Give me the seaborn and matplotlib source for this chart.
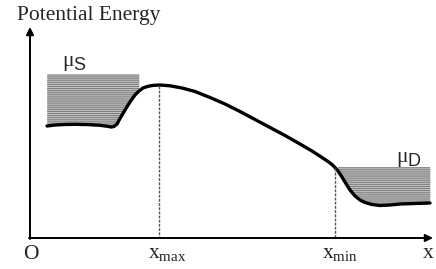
import numpy as np
import seaborn as sns
import matplotlib.pyplot as plt

# schematic potential profile, in picture coordinates (y grows downward)
curve_x = [47, 55, 65, 75, 88, 100, 107, 111, 114, 117, 120, 125, 130, 135, 139, 143, 148,
           153, 160, 170, 182, 195, 210, 225, 240, 255, 270, 285, 300, 312, 322, 328, 332,
           335, 338, 341, 345, 350, 355, 360, 365, 372, 380, 390, 400, 415, 430]
curve_y = [126, 125, 124.5, 124.3, 124.6, 125.3, 126.2, 127, 126.5, 124, 118.5, 110, 102,
           95, 91, 88, 86.3, 85.4, 85, 85.8, 88, 91.5, 97.5, 104, 111.5, 119.5, 127.5, 135.5,
           144, 151, 157.5, 161.5, 164.5, 167.5, 171, 175.5, 182, 190, 196, 200, 202.5, 204.5,
           205.5, 205, 204, 203.5, 203]

source_x = (47, 139)
source_level = 74
drain_x = (338, 430)
drain_level = 167

x_max = 159
x_min = 335
axis_origin = (30, 238)

sns.set_style('white')
plt.rcParams['font.family'] = ['Liberation Serif', 'DejaVu Serif']
plt.rcParams['mathtext.fontset'] = 'custom'
plt.rcParams['mathtext.rm'] = 'Liberation Serif'
plt.rcParams['mathtext.it'] = 'Liberation Serif:italic'
plt.rcParams['hatch.linewidth'] = 0.7

fig = plt.figure(figsize=(4.36, 2.69), dpi=100)
ax = fig.add_axes([0, 0, 1, 1])
ax.set_xlim(0, 436)
ax.set_ylim(269, 0)
ax.axis('off')

cx = np.array(curve_x)
cy = np.array(curve_y)

# shaded reservoirs
for (x0, x1), level in [(source_x, source_level), (drain_x, drain_level)]:
    m = (cx >= x0) & (cx <= x1)
    ax.fill_between(cx[m], level, cy[m], color='#c2c2c2', linewidth=0)
    ax.fill_between(cx[m], level, cy[m], facecolor='none', edgecolor='#7a7a7a',
                    hatch='--------', linewidth=0)

# potential curve
sns.lineplot(x=cx, y=cy, sort=False, ax=ax, color='black', linewidth=2.4, estimator=None,
             solid_joinstyle='round', solid_capstyle='round')

# dashed markers
ax.plot([x_max, x_max], [86, axis_origin[1]], color='#555555', lw=1, ls=(0, (2, 1)))
ax.plot([x_min, x_min], [168, axis_origin[1]], color='#555555', lw=1, ls=(0, (2, 1)))

# axes arrows
arrow = dict(arrowstyle='-|>', color='black', lw=1.4, mutation_scale=11, shrinkA=0, shrinkB=0)
ax.annotate('', xy=(axis_origin[0], 27), xytext=(axis_origin[0], axis_origin[1] + 1),
            arrowprops=arrow)
ax.annotate('', xy=(433, axis_origin[1]), xytext=(axis_origin[0] - 1, axis_origin[1]),
            arrowprops=arrow)

# labels
fs = 15.5
ax.text(17, 20, 'Potential Energy', fontsize=fs, ha='left', va='baseline')
ax.text(23, 259, 'O', fontsize=fs, ha='left', va='baseline')
ax.text(148, 258, r'$\mathrm{x_{max}}$', fontsize=fs, ha='left', va='baseline')
ax.text(322, 258, r'$\mathrm{x_{min}}$', fontsize=fs, ha='left', va='baseline')
ax.text(423, 258, 'x', fontsize=fs, ha='left', va='baseline')
ax.text(62, 66, 'μ', fontsize=fs, ha='left', va='baseline')
ax.text(73.5, 70, 'S', fontsize=13, ha='left', va='baseline', family='Liberation Sans')
ax.text(396, 162, 'μ', fontsize=fs, ha='left', va='baseline')
ax.text(407.5, 166, 'D', fontsize=13, ha='left', va='baseline', family='Liberation Sans')

fig.savefig('out.png', dpi=100)
